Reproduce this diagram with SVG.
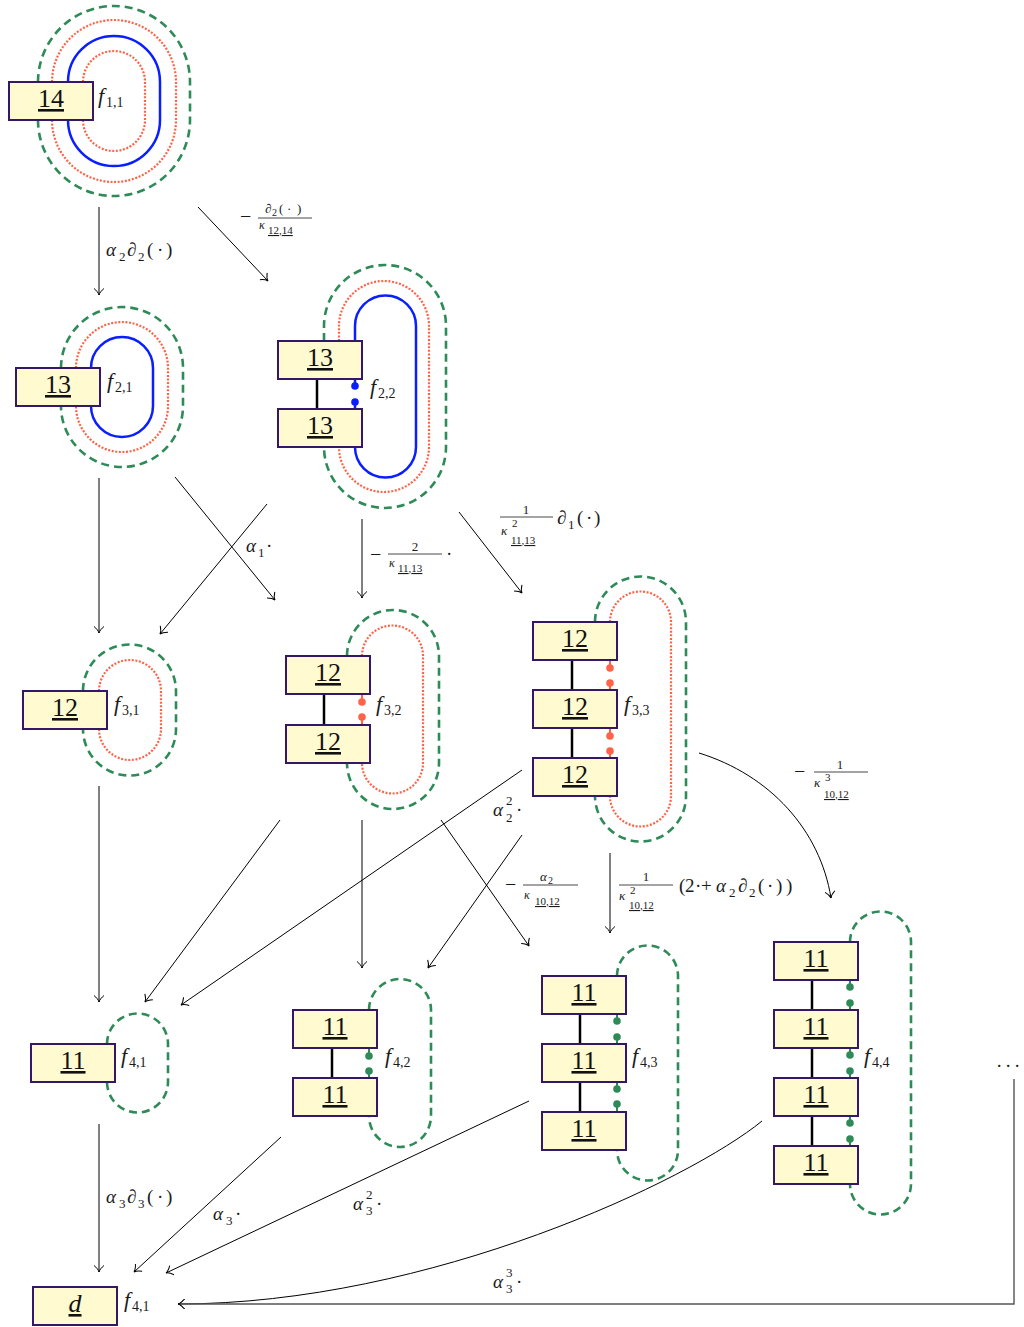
<svg xmlns="http://www.w3.org/2000/svg" width="1024" height="1327" viewBox="0 0 1024 1327">
<style>
.box{fill:#FFFAD0;stroke:#341766;stroke-width:2}
.num{font-family:"Liberation Serif",serif;font-size:26px;text-anchor:middle;text-decoration:underline;fill:#111}
.g{fill:none;stroke:#2E8B57;stroke-width:2.6;stroke-dasharray:8 5}
.r{fill:none;stroke:#FF6347;stroke-width:2.2;stroke-dasharray:2 1.6}
.b{fill:none;stroke:#0A1EFF;stroke-width:2.5}
.lk{stroke:#000;stroke-width:2.5}
.e{fill:none;stroke:#000;stroke-width:1;marker-end:url(#arr)}
.t{font-family:"Liberation Serif",serif;fill:#1a1a1a;font-size:19px}
.i{font-style:italic}
.f{font-family:"Liberation Serif",serif;fill:#1a1a1a;font-size:22px;font-style:italic}
.fs{font-family:"Liberation Serif",serif;fill:#1a1a1a;font-size:14px}
.s13{font-size:13px}
.s10{font-size:11px}
.u{text-decoration:underline}
.mn{font-size:20px}
.bar{stroke:#1a1a1a;stroke-width:0.8}
.dg{fill:#2E8B57}.dr{fill:#FF6347}.db{fill:#0A1EFF}
.sg{stroke:#2E8B57;stroke-width:2}.sr{stroke:#FF6347;stroke-width:2}.sb{stroke:#0A1EFF;stroke-width:2.5}
</style>
<defs>
<marker id="arr" markerWidth="12" markerHeight="12" refX="10" refY="6" orient="auto" markerUnits="userSpaceOnUse" viewBox="0 0 12 12">
<path d="M3.5,1 C5.5,3.5 8,5.5 10,6 C8,6.5 5.5,8.5 3.5,11" fill="none" stroke="#000" stroke-width="1"/>
</marker>
</defs>
<rect width="1024" height="1327" fill="#fff"/>

<g id="connectors">
<path class="e" d="M99,207 L99,295"/>
<path class="e" d="M198,207 L268,281"/>
<path class="e" d="M99,478 L99,633"/>
<path class="e" d="M175,477 L275,600"/>
<path class="e" d="M267,504 L160,634"/>
<path class="e" d="M362,519 L362,598"/>
<path class="e" d="M459,512 L522,593"/>
<path class="e" d="M99,786 L99,1002"/>
<path class="e" d="M280,820 L145,1002"/>
<path class="e" d="M522,770 L181,1005"/>
<path class="e" d="M362,820 L362,968"/>
<path class="e" d="M441,820 L529,946"/>
<path class="e" d="M522,835 L428,968"/>
<path class="e" d="M610,853 L610,933"/>
<path class="e" d="M699,753 C770,775 820,830 831,898"/>
<path class="e" d="M99,1124 L99,1272"/>
<path class="e" d="M281,1137 L134,1272"/>
<path class="e" d="M529,1101 L166,1273"/>
<path class="e" d="M762,1121 C690,1180 430,1304 178,1304"/>
<path class="e" d="M1014,1079 L1014,1304 L178,1304" style="stroke:#555;stroke-width:1.4"/>

<text class="t"><tspan class="i" x="106" y="256">α</tspan><tspan class="s13" x="119" y="261">2</tspan><tspan x="127" y="256">∂</tspan><tspan class="s13" x="138" y="261">2</tspan><tspan x="147" y="256">(</tspan><tspan x="157" y="256">·</tspan><tspan x="166" y="256">)</tspan></text>

<g>
<text class="t mn" x="240" y="223">−</text>
<text class="t s13"><tspan x="265" y="213">∂</tspan><tspan x="272" y="216" style="font-size:10px">2</tspan><tspan x="279" y="213">(</tspan><tspan x="287" y="213">·</tspan><tspan x="297" y="213">)</tspan></text>
<line class="bar" x1="258" y1="218" x2="312" y2="218"/>
<text class="t i" x="259" y="229" style="font-size:12px">κ</text>
<text class="t s10" x="268" y="234"><tspan class="u">12</tspan>,<tspan class="u">14</tspan></text>
</g>

<text class="t"><tspan class="i" x="246" y="552">α</tspan><tspan class="s13" x="258" y="557">1</tspan><tspan x="266" y="552">·</tspan></text>

<g>
<text class="t mn" x="370" y="561">−</text>
<text class="t s13" x="415" y="551" text-anchor="middle">2</text>
<line class="bar" x1="388" y1="554" x2="442" y2="554"/>
<text class="t i" x="389" y="567" style="font-size:12px">κ</text>
<text class="t s10" x="398" y="572"><tspan class="u">11</tspan>,<tspan class="u">13</tspan></text>
<text class="t" x="446" y="560">·</text>
</g>

<g>
<text class="t s13" x="526" y="514" text-anchor="middle">1</text>
<line class="bar" x1="500" y1="517" x2="553" y2="517"/>
<text class="t i s13" x="501" y="535">κ</text>
<text class="t" x="512" y="527" style="font-size:11px">2</text>
<text class="t s10" x="511" y="544"><tspan class="u">11</tspan>,<tspan class="u">13</tspan></text>
<text class="t"><tspan x="557" y="524">∂</tspan><tspan class="s13" x="568" y="529">1</tspan><tspan x="577" y="524">(</tspan><tspan x="586" y="524">·</tspan><tspan x="594" y="524">)</tspan></text>
</g>

<text class="t"><tspan class="i" x="493" y="816">α</tspan><tspan class="s13" x="506" y="805">2</tspan><tspan class="s13" x="506" y="822">2</tspan><tspan x="516" y="816">·</tspan></text>

<g>
<text class="t mn" x="505" y="891">−</text>
<text class="t s13"><tspan class="i" x="540" y="881">α</tspan><tspan x="548" y="884" style="font-size:10px">2</tspan></text>
<line class="bar" x1="523" y1="885" x2="578" y2="885"/>
<text class="t i" x="524" y="899" style="font-size:12px">κ</text>
<text class="t s10" x="535" y="905"><tspan class="u">10</tspan>,<tspan class="u">12</tspan></text>
</g>

<g>
<text class="t s13" x="646" y="881" text-anchor="middle">1</text>
<line class="bar" x1="619" y1="885" x2="673" y2="885"/>
<text class="t i s13" x="619" y="900">κ</text>
<text class="t" x="630" y="894" style="font-size:11px">2</text>
<text class="t s10" x="629" y="909"><tspan class="u">10</tspan>,<tspan class="u">12</tspan></text>
<text class="t"><tspan x="679" y="892">(</tspan><tspan x="685" y="892">2</tspan><tspan x="695" y="892">·</tspan><tspan x="701" y="892">+</tspan><tspan class="i" x="716" y="892">α</tspan><tspan class="s13" x="729" y="897">2</tspan><tspan x="738" y="892">∂</tspan><tspan class="s13" x="749" y="897">2</tspan><tspan x="758" y="892">(</tspan><tspan x="767" y="892">·</tspan><tspan x="776" y="892">)</tspan><tspan x="786" y="892">)</tspan></text>
</g>

<g>
<text class="t mn" x="794" y="778">−</text>
<text class="t s13" x="840" y="769" text-anchor="middle">1</text>
<line class="bar" x1="814" y1="772" x2="868" y2="772"/>
<text class="t i s13" x="814" y="787">κ</text>
<text class="t" x="825" y="781" style="font-size:11px">3</text>
<text class="t s10" x="824" y="798"><tspan class="u">10</tspan>,<tspan class="u">12</tspan></text>
</g>

<text class="t"><tspan class="i" x="106" y="1203">α</tspan><tspan class="s13" x="119" y="1208">3</tspan><tspan x="127" y="1203">∂</tspan><tspan class="s13" x="138" y="1208">3</tspan><tspan x="147" y="1203">(</tspan><tspan x="157" y="1203">·</tspan><tspan x="166" y="1203">)</tspan></text>

<text class="t"><tspan class="i" x="213" y="1220">α</tspan><tspan class="s13" x="226" y="1225">3</tspan><tspan x="235" y="1220">·</tspan></text>

<text class="t"><tspan class="i" x="353" y="1210">α</tspan><tspan class="s13" x="366" y="1199">2</tspan><tspan class="s13" x="366" y="1215">3</tspan><tspan x="376" y="1210">·</tspan></text>

<text class="t"><tspan class="i" x="493" y="1288">α</tspan><tspan class="s13" x="506" y="1277">3</tspan><tspan class="s13" x="506" y="1293">3</tspan><tspan x="516" y="1288">·</tspan></text>

<text class="t"><tspan x="996" y="1072">·</tspan><tspan x="1005" y="1072">·</tspan><tspan x="1014" y="1072">·</tspan></text>
</g>

<g id="n11">
<path class="g" d="M38,82 A76,76 0 0 1 190,82 L190,120 A76,76 0 0 1 38,120"/>
<path class="r" d="M52,82 A62,62 0 0 1 176,82 L176,120 A62,62 0 0 1 52,120"/>
<path class="b" d="M68,82 A46,46 0 0 1 160,82 L160,120 A46,46 0 0 1 68,120"/>
<path class="r" d="M83,82 A31,31 0 0 1 145,82 L145,120 A31,31 0 0 1 83,120"/>
<rect class="box" x="9" y="82" width="84" height="38"/>
<text class="num" x="51" y="107">14</text>
<text class="f" x="98" y="103">f</text><text class="fs" x="106" y="107">1,1</text>
</g>

<g id="n21">
<path class="g" d="M61,368 A61,61 0 0 1 183,368 L183,406 A61,61 0 0 1 61,406"/>
<path class="r" d="M76,368 A46,46 0 0 1 168,368 L168,406 A46,46 0 0 1 76,406"/>
<path class="b" d="M91,368 A31,31 0 0 1 153,368 L153,406 A31,31 0 0 1 91,406"/>
<rect class="box" x="16" y="368" width="84" height="38"/>
<text class="num" x="58" y="393">13</text>
<text class="f" x="107" y="388">f</text><text class="fs" x="115" y="392">2,1</text>
</g>

<g id="n22">
<path class="g" d="M324,341 L324,326 A61,61 0 0 1 446,326 L446,447 A61,61 0 0 1 324,447"/>
<path class="r" d="M339,341 L339,326 A45,45 0 0 1 429,326 L429,447 A45,45 0 0 1 339,447"/>
<path class="b" d="M355,341 L355,326 A30.5,30.5 0 0 1 416,326 L416,447 A30.5,30.5 0 0 1 355,447"/>
<line class="lk" x1="317" y1="379" x2="317" y2="409"/>
<line class="sb" x1="355" y1="379" x2="355" y2="386"/><line class="sb" x1="355" y1="402" x2="355" y2="409"/>
<rect class="box" x="278" y="341" width="84" height="38"/>
<rect class="box" x="278" y="409" width="84" height="38"/>
<circle class="db" cx="355" cy="386" r="3.8"/><circle class="db" cx="355" cy="402" r="3.8"/>
<text class="num" x="320" y="366">13</text>
<text class="num" x="320" y="434">13</text>
<text class="f" x="370" y="394">f</text><text class="fs" x="378" y="398">2,2</text>
</g>

<g id="n31">
<path class="g" d="M83,691 A46.5,46.5 0 0 1 176,691 L176,729 A46.5,46.5 0 0 1 83,729"/>
<path class="r" d="M99,691 A31,31 0 0 1 161,691 L161,729 A31,31 0 0 1 99,729"/>
<rect class="box" x="23" y="691" width="84" height="38"/>
<text class="num" x="65" y="716">12</text>
<text class="f" x="114" y="711">f</text><text class="fs" x="122" y="715">3,1</text>
</g>

<g id="n32">
<path class="g" d="M347,656 A46,46 0 0 1 439,656 L439,763 A46,46 0 0 1 347,763"/>
<path class="r" d="M362,656 A30.5,30.5 0 0 1 423,656 L423,763 A30.5,30.5 0 0 1 362,763"/>
<line class="lk" x1="324" y1="694" x2="324" y2="725"/>
<line class="sr" x1="362" y1="694" x2="362" y2="702"/><line class="sr" x1="362" y1="717" x2="362" y2="725"/>
<rect class="box" x="286" y="656" width="84" height="38"/>
<rect class="box" x="286" y="725" width="84" height="38"/>
<circle class="dr" cx="362" cy="702" r="3.8"/><circle class="dr" cx="362" cy="717" r="3.8"/>
<text class="num" x="328" y="681">12</text>
<text class="num" x="328" y="750">12</text>
<text class="f" x="376" y="711">f</text><text class="fs" x="384" y="715">3,2</text>
</g>

<g id="n33">
<path class="g" d="M595,622 A45.5,45.5 0 0 1 686,622 L686,796 A45.5,45.5 0 0 1 595,796"/>
<path class="r" d="M610,622 A30.5,30.5 0 0 1 671,622 L671,796 A30.5,30.5 0 0 1 610,796"/>
<line class="lk" x1="572" y1="660" x2="572" y2="690"/>
<line class="lk" x1="572" y1="728" x2="572" y2="758"/>
<line class="sr" x1="610" y1="660" x2="610" y2="668"/><line class="sr" x1="610" y1="683" x2="610" y2="690"/>
<line class="sr" x1="610" y1="728" x2="610" y2="736"/><line class="sr" x1="610" y1="751" x2="610" y2="758"/>
<rect class="box" x="533" y="622" width="84" height="38"/>
<rect class="box" x="533" y="690" width="84" height="38"/>
<rect class="box" x="533" y="758" width="84" height="38"/>
<circle class="dr" cx="610" cy="668" r="3.8"/><circle class="dr" cx="610" cy="683" r="3.8"/>
<circle class="dr" cx="610" cy="736" r="3.8"/><circle class="dr" cx="610" cy="751" r="3.8"/>
<text class="num" x="575" y="647">12</text>
<text class="num" x="575" y="715">12</text>
<text class="num" x="575" y="783">12</text>
<text class="f" x="624" y="711">f</text><text class="fs" x="632" y="715">3,3</text>
</g>

<g id="n41">
<path class="g" d="M107,1044 A30.5,30.5 0 0 1 168,1044 L168,1082 A30.5,30.5 0 0 1 107,1082"/>
<rect class="box" x="31" y="1044" width="84" height="38"/>
<text class="num" x="73" y="1069">11</text>
<text class="f" x="121" y="1063">f</text><text class="fs" x="129" y="1067">4,1</text>
</g>

<g id="n42">
<path class="g" d="M369,1010 A31,31 0 0 1 431,1010 L431,1116 A31,31 0 0 1 369,1116"/>
<line class="lk" x1="332" y1="1048" x2="332" y2="1078"/>
<line class="sg" x1="369" y1="1048" x2="369" y2="1056"/><line class="sg" x1="369" y1="1071" x2="369" y2="1078"/>
<rect class="box" x="293" y="1010" width="84" height="38"/>
<rect class="box" x="293" y="1078" width="84" height="38"/>
<circle class="dg" cx="369" cy="1056" r="3.8"/><circle class="dg" cx="369" cy="1071" r="3.8"/>
<text class="num" x="335" y="1035">11</text>
<text class="num" x="335" y="1103">11</text>
<text class="f" x="385" y="1063">f</text><text class="fs" x="393" y="1067">4,2</text>
</g>

<g id="n43">
<path class="g" d="M617,976 A30.5,30.5 0 0 1 678,976 L678,1150 A30.5,30.5 0 0 1 617,1150"/>
<line class="lk" x1="580" y1="1014" x2="580" y2="1044"/>
<line class="lk" x1="580" y1="1082" x2="580" y2="1112"/>
<line class="sg" x1="617" y1="1014" x2="617" y2="1021"/><line class="sg" x1="617" y1="1037" x2="617" y2="1044"/>
<line class="sg" x1="617" y1="1082" x2="617" y2="1089"/><line class="sg" x1="617" y1="1104" x2="617" y2="1112"/>
<rect class="box" x="542" y="976" width="84" height="38"/>
<rect class="box" x="542" y="1044" width="84" height="38"/>
<rect class="box" x="542" y="1112" width="84" height="38"/>
<circle class="dg" cx="617" cy="1021" r="3.8"/><circle class="dg" cx="617" cy="1037" r="3.8"/>
<circle class="dg" cx="617" cy="1089" r="3.8"/><circle class="dg" cx="617" cy="1104" r="3.8"/>
<text class="num" x="584" y="1001">11</text>
<text class="num" x="584" y="1069">11</text>
<text class="num" x="584" y="1137">11</text>
<text class="f" x="632" y="1063">f</text><text class="fs" x="640" y="1067">4,3</text>
</g>

<g id="n44">
<path class="g" d="M850,942 A30.5,30.5 0 0 1 911,942 L911,1184 A30.5,30.5 0 0 1 850,1184"/>
<line class="lk" x1="812" y1="980" x2="812" y2="1010"/>
<line class="lk" x1="812" y1="1048" x2="812" y2="1078"/>
<line class="lk" x1="812" y1="1116" x2="812" y2="1146"/>
<line class="sg" x1="850" y1="980" x2="850" y2="987"/><line class="sg" x1="850" y1="1003" x2="850" y2="1010"/>
<line class="sg" x1="850" y1="1048" x2="850" y2="1055"/><line class="sg" x1="850" y1="1071" x2="850" y2="1078"/>
<line class="sg" x1="850" y1="1116" x2="850" y2="1123"/><line class="sg" x1="850" y1="1139" x2="850" y2="1146"/>
<rect class="box" x="774" y="942" width="84" height="38"/>
<rect class="box" x="774" y="1010" width="84" height="38"/>
<rect class="box" x="774" y="1078" width="84" height="38"/>
<rect class="box" x="774" y="1146" width="84" height="38"/>
<circle class="dg" cx="850" cy="987" r="3.8"/><circle class="dg" cx="850" cy="1003" r="3.8"/>
<circle class="dg" cx="850" cy="1055" r="3.8"/><circle class="dg" cx="850" cy="1071" r="3.8"/>
<circle class="dg" cx="850" cy="1123" r="3.8"/><circle class="dg" cx="850" cy="1139" r="3.8"/>
<text class="num" x="816" y="967">11</text>
<text class="num" x="816" y="1035">11</text>
<text class="num" x="816" y="1103">11</text>
<text class="num" x="816" y="1171">11</text>
<text class="f" x="864" y="1063">f</text><text class="fs" x="872" y="1067">4,4</text>
</g>

<g id="nd">
<rect class="box" x="33" y="1287" width="84" height="38"/>
<text class="num i" x="75" y="1312">d</text>
<text class="f" x="124" y="1307">f</text><text class="fs" x="132" y="1311">4,1</text>
</g>
</svg>
